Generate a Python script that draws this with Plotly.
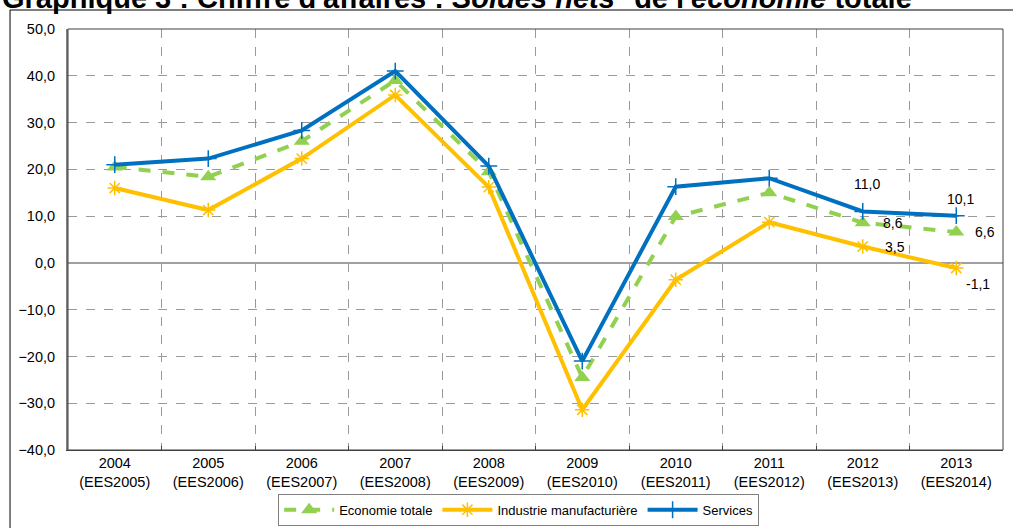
import plotly.graph_objects as go

years = ["2004", "2005", "2006", "2007", "2008", "2009", "2010", "2011", "2012", "2013"]
surveys = ["EES2005", "EES2006", "EES2007", "EES2008", "EES2009",
           "EES2010", "EES2011", "EES2012", "EES2013", "EES2014"]

economie_totale = [20.5, 18.4, 26.0, 39.0, 19.5, -24.5, 9.9, 15.0, 8.6, 6.6]
industrie = [16.0, 11.3, 22.3, 35.9, 16.2, -31.4, -3.6, 8.7, 3.5, -1.1]
services = [21.0, 22.3, 28.3, 41.0, 20.7, -21.0, 16.3, 18.1, 11.0, 10.1]

y_ticks = [-40, -30, -20, -10, 0, 10, 20, 30, 40, 50]

categories = [f"{y}<br>({s})" for y, s in zip(years, surveys)]

GREEN = "#92D050"
ORANGE = "#FFC000"
BLUE = "#0070C0"
FONT = "Liberation Sans, Arial, sans-serif"

fig = go.Figure()

fig.add_trace(go.Scatter(
    x=categories, y=economie_totale, name="Economie totale",
    mode="lines+markers",
    line=dict(color=GREEN, width=4, dash="dash"),
    marker=dict(symbol="triangle-up", size=14, color=GREEN),
))
fig.add_trace(go.Scatter(
    x=categories, y=industrie, name="Industrie manufacturière",
    mode="lines+markers",
    line=dict(color=ORANGE, width=4),
    marker=dict(symbol="asterisk-open", size=12, color=ORANGE,
                line=dict(color=ORANGE, width=1.5)),
))
fig.add_trace(go.Scatter(
    x=categories, y=services, name="Services",
    mode="lines+markers",
    line=dict(color=BLUE, width=4),
    marker=dict(symbol="cross-thin-open", size=12, color=BLUE,
                line=dict(color="#1F6FFF", width=1.5)),
))


def fmt(v):
    return f"{v:.1f}".replace(".", ",")


# value labels for the last two years
labels = [
    (services, 8, 4, 27, "center"),
    (services, 9, 4, 17, "center"),
    (economie_totale, 8, 18, 0, "left"),
    (economie_totale, 9, 17, 0, "left"),
    (industrie, 8, 20, 0, "left"),
    (industrie, 9, 8, -16, "left"),
]
annotations = []
for series, i, dx, dy, anchor in labels:
    annotations.append(dict(
        x=categories[i], y=series[i], text=fmt(series[i]), showarrow=False,
        xanchor=anchor, yanchor="middle", xshift=dx, yshift=dy,
        font=dict(family=FONT, size=14, color="#000000"),
    ))

annotations.append(dict(
    xref="paper", yref="paper", x=-0.0727, y=1.0745,
    xanchor="left", yanchor="middle", showarrow=False,
    text="<b>Graphique 3 : Chiffre d'affaires : <i>Soldes nets</i>* de l'<i>économie</i> totale</b>",
    font=dict(family=FONT, size=29, color="#000000"),
))

fig.update_layout(
    width=1013, height=528,
    margin=dict(l=68, r=10, t=29, b=78, autoexpand=False),
    paper_bgcolor="white", plot_bgcolor="white",
    separators=", ",
    showlegend=True,
    legend=dict(
        orientation="h", x=0.482, xanchor="center", y=-0.104, yanchor="top",
        bordercolor="#808080", borderwidth=1,
        font=dict(family=FONT, size=13, color="#000000"),
        itemwidth=50, tracegroupgap=0,
    ),
    annotations=annotations,
    shapes=[
        dict(type="rect", xref="paper", yref="paper", x0=0, x1=1, y0=0, y1=1,
             line=dict(color="#404040", width=1)),
        dict(type="rect", xref="paper", yref="paper",
             x0=-0.0620, x1=1.04, y0=1.0451, y1=-0.30,
             line=dict(color="#000000", width=1)),
    ],
    font=dict(family=FONT, size=14, color="#000000"),
)

fig.update_xaxes(
    type="category", tickson="boundaries",
    showgrid=True, gridcolor="#9A9A9A", griddash="dash", gridwidth=1,
    ticks="inside", ticklen=4, tickcolor="#404040",
    showline=True, linecolor="#404040", linewidth=1,
    tickfont=dict(family=FONT, size=14.5, color="#000000"),
    range=[-0.5, 9.5],
)
fig.update_yaxes(
    range=[-40, 50], tickvals=y_ticks, tickformat=".1f",
    showgrid=True, gridcolor="#9A9A9A", griddash="dash", gridwidth=1,
    zeroline=True, zerolinecolor="#A0A0A0", zerolinewidth=2,
    showline=True, linecolor="#808080", linewidth=2,
    ticks="", ticklabelstandoff=8,
    tickfont=dict(family=FONT, size=14.5, color="#000000"),
)

fig.write_html("out.html")
